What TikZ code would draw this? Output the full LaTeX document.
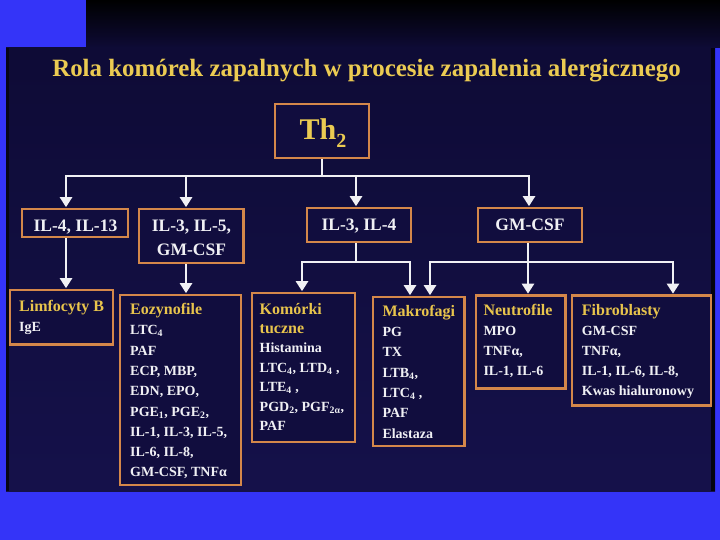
\documentclass[tikz,border=0pt]{standalone}
\usepackage{fontspec}
\setmainfont{Liberation Serif}
\usetikzlibrary{arrows.meta}
\definecolor{bgblue}{HTML}{3434F8}
\definecolor{slide}{HTML}{15114A}
\definecolor{slidetop}{HTML}{0E0B36}
\definecolor{boxfill}{HTML}{110D3E}
\definecolor{frame}{HTML}{D4874A}
\definecolor{ttl}{HTML}{EBCB52}
\definecolor{hdr}{HTML}{E8C44C}
\definecolor{txt}{HTML}{F0F0F4}
\begin{document}
\begin{tikzpicture}[x=1pt,y=-1pt,
  frm/.style={draw=frame, line width=2.6pt, fill=boxfill, inner sep=0pt},
  wire/.style={draw=txt, line width=2.4pt},
  arr/.style={wire, -{Triangle[width=12pt,length=10pt]}, shorten >=0.5pt},
  body/.style={text=txt, font=\bfseries\fontsize{14}{16}\selectfont, anchor=base west, inner sep=0pt},
  head/.style={text=hdr, font=\bfseries\fontsize{16}{18}\selectfont, anchor=base west, inner sep=0pt},
  mid/.style={text=txt, font=\bfseries\fontsize{17.5}{20}\selectfont, anchor=base, inner sep=0pt}]
\useasboundingbox (0,0) rectangle (720,540);
% backgrounds
\fill[bgblue] (0,0) rectangle (720,540);
\shade[top color=black, bottom color=slidetop] (86,0) rectangle (720,48);
\shade[top color=slidetop, bottom color=slide] (6,48) rectangle (715,491);
\fill[black!80!slide] (711,48) rectangle (715,491);
\fill[black!70!slide] (6,48) rectangle (8.5,491);

% title
\node[text=ttl, font=\bfseries\fontsize{24.9}{28}\selectfont, anchor=base, inner sep=0pt] (title) at (366.5,76.7) {Rola komórek zapalnych w procesie zapalenia alergicznego};

% boxes
\node[frm, minimum width=94pt, minimum height=54pt] (th) at (322,131) {};
\node[frm, minimum width=106pt, minimum height=28pt] (il4) at (75,223) {};
\node[frm, minimum width=104.5pt, minimum height=54pt] (il35) at (191.25,236) {};
\node[frm, minimum width=104pt, minimum height=34pt] (il34) at (359,225) {};
\node[frm, minimum width=104pt, minimum height=34pt] (gm) at (530,225) {};
\node[frm, minimum width=103pt, minimum height=54.5pt] (limf) at (61.5,317.25) {};
\node[frm, minimum width=121pt, minimum height=190pt] (eoz) at (180.5,390) {};
\node[frm, minimum width=103pt, minimum height=149pt] (kom) at (303.5,367.5) {};
\node[frm, minimum width=91.5pt, minimum height=149pt] (mak) at (418.75,371.5) {};
\node[frm, minimum width=89.5pt, minimum height=93pt] (neu) at (520.75,342) {};
\node[frm, minimum width=139pt, minimum height=110pt] (fib) at (641.5,350.5) {};

% connectors, level 1
\coordinate (b1) at (66,176);
\coordinate (b2) at (186,176);
\coordinate (b3) at (356,176);
\coordinate (b4) at (529,176);
\draw[wire] (th.south) -- (th.south |- b1);
\draw[wire, line cap=rect] (b1) -- (b4);
\draw[arr] (b1) -- (b1 |- il4.north);
\draw[arr] (b2) -- (b2 |- il35.north);
\draw[arr] (b3) -- (b3 |- il34.north);
\draw[arr] (b4) -- (b4 |- gm.north);

% connectors, level 2
\coordinate (c1) at (66,237);
\coordinate (c2) at (186,263);
\draw[arr] (c1 |- il4.south) -- (c1 |- limf.north);
\draw[arr] (c2 |- il35.south) -- (c2 |- eoz.north);
\coordinate (d1) at (302,262);
\coordinate (d2) at (410,262);
\coordinate (d3) at (356,262);
\draw[wire] (d3 |- il34.south) -- (d3);
\draw[wire, line cap=rect] (d1) -- (d2);
\draw[arr] (d1) -- (d1 |- kom.north);
\draw[arr] (d2) -- (d2 |- mak.north);
\coordinate (e1) at (430,262);
\coordinate (e2) at (528,262);
\coordinate (e3) at (673,262);
\draw[wire, line cap=rect] (e1) -- (e3);
\draw[arr] (e2 |- gm.south) -- (e2 |- neu.north);
\draw[arr] (e1) -- (e1 |- mak.north);
\draw[arr] (e3) -- (e3 |- fib.north);

% Th2
\node[text=ttl, font=\bfseries\fontsize{30}{32}\selectfont, anchor=base west, inner sep=0pt] (thtxt) at (299.5,140) {Th\raisebox{-8pt}{\fontsize{20}{20}\selectfont 2}};

% level 2 texts
\node[mid] (il4t) at (75.5,231.7) {IL-4, IL-13};
\node[mid] (il35t) at (191.5,231.7) {IL-3, IL-5,};
\node[mid] (il35u) at (191.5,255) {GM-CSF};
\node[mid] (il34t) at (359,230.7) {IL-3, IL-4};
\node[mid] (gmt) at (530,230.7) {GM-CSF};

% Limfocyty B
\node[head] (limf-h) at (19,311) {Limfocyty B};
\node[body] (limf-l1) at (19,331) {IgE};

% Eozynofile
\node[head] (eoz-h) at (130,314.5) {Eozynofile};
\foreach \t [count=\i] in {{LTC\textsubscript{4}},{PAF},{ECP, MBP,},{EDN, EPO,},{PGE\textsubscript{1}, PGE\textsubscript{2},},{IL-1, IL-3, IL-5,},{IL-6, IL-8,},{GM-CSF, TNFα}}
  \node[body] (eoz-l\i) at (130,{314.5+\i*20.3}) {\t};

% Komorki tuczne
\node[head] (kom-h) at (259.5,314) {Komórki};
\node[head] (kom-h2) at (259.5,333.4) {tuczne};
\foreach \t [count=\i] in {{Histamina},{LTC\textsubscript{4}, LTD\textsubscript{4} ,},{LTE\textsubscript{4} ,},{PGD\textsubscript{2}, PGF\textsubscript{2α},},{PAF}}
  \node[body] (kom-l\i) at (259.5,{333.4+\i*19.4}) {\t};

% Makrofagi
\node[head] (mak-h) at (382.3,316.3) {Makrofagi};
\foreach \t [count=\i] in {{PG},{TX},{LTB\textsubscript{4},},{LTC\textsubscript{4} ,},{PAF},{Elastaza}}
  \node[body] (mak-l\i) at (382.3,{316.3+\i*20.3}) {\t};

% Neutrofile
\node[head] (neu-h) at (483.3,315.3) {Neutrofile};
\foreach \t [count=\i] in {{MPO},{TNFα,},{IL-1, IL-6}}
  \node[body] (neu-l\i) at (483.3,{315.3+\i*20}) {\t};

% Fibroblasty
\node[head] (fib-h) at (581.7,315.3) {Fibroblasty};
\foreach \t [count=\i] in {{GM-CSF},{TNFα,},{IL-1, IL-6, IL-8,},{Kwas hialuronowy}}
  \node[body] (fib-l\i) at (581.7,{315.3+\i*20}) {\t};
\end{tikzpicture}
\end{document}
